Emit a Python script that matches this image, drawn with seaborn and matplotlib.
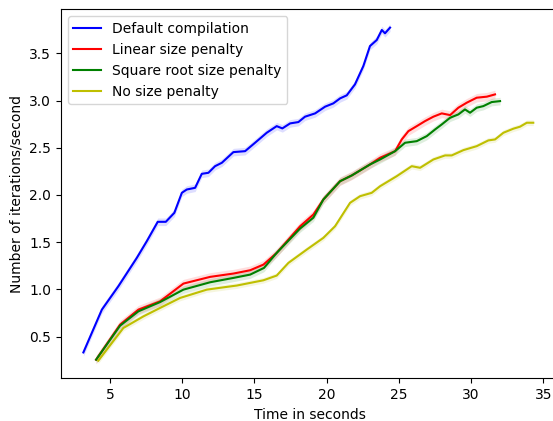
import numpy as np
import pandas as pd
import matplotlib
matplotlib.use("Agg")
import matplotlib.pyplot as plt
import seaborn as sns

series_names = ["Default compilation", "Linear size penalty",
                "Square root size penalty", "No size penalty"]
series_colors = ["blue", "red", "green", "y"]

default_x = [3.15, 4.43, 5.57, 6.85, 7.54, 8.30, 8.86, 9.45, 9.97, 10.31, 10.89,
             11.35, 11.81, 12.27, 12.74, 13.54, 14.35, 15.04, 15.85, 16.54, 16.93,
             17.47, 18.04, 18.50, 19.20, 19.89, 20.46, 20.93, 21.39, 21.96, 22.54,
             23.00, 23.47, 23.82, 24.04, 24.39]
default_y = [0.333, 0.786, 1.033, 1.334, 1.510, 1.716, 1.716, 1.811, 2.023, 2.058,
             2.076, 2.224, 2.235, 2.305, 2.341, 2.454, 2.464, 2.553, 2.659, 2.729,
             2.705, 2.758, 2.772, 2.829, 2.864, 2.935, 2.970, 3.023, 3.055, 3.171,
             3.365, 3.577, 3.641, 3.747, 3.712, 3.772]

linear_x = [4.03, 5.69, 6.96, 8.46, 10.08, 11.93, 13.54, 14.70, 15.62, 16.54,
            18.16, 19.08, 19.77, 20.93, 21.74, 23.00, 23.70, 24.74, 25.20, 25.66,
            26.24, 26.81, 27.39, 27.97, 28.55, 29.12, 29.70, 30.39, 31.09, 31.66]
linear_y = [0.256, 0.627, 0.786, 0.874, 1.062, 1.133, 1.168, 1.203, 1.263, 1.387,
            1.669, 1.793, 1.952, 2.146, 2.207, 2.323, 2.394, 2.464, 2.588, 2.676,
            2.729, 2.782, 2.829, 2.864, 2.846, 2.924, 2.977, 3.030, 3.041, 3.065]

sqrt_x = [4.03, 5.69, 6.96, 8.46, 10.08, 11.93, 13.54, 14.70, 15.66, 16.54,
          18.16, 19.08, 19.77, 20.93, 21.74, 23.00, 23.70, 24.74, 25.43, 26.24,
          26.93, 27.51, 27.97, 28.55, 29.12, 29.58, 29.93, 30.39, 30.85, 31.43, 32.01]
sqrt_y = [0.256, 0.616, 0.768, 0.866, 0.998, 1.076, 1.122, 1.157, 1.228, 1.387,
          1.645, 1.760, 1.952, 2.146, 2.207, 2.323, 2.376, 2.464, 2.553, 2.570,
          2.623, 2.694, 2.747, 2.818, 2.853, 2.906, 2.871, 2.924, 2.941, 2.984, 2.994]

none_x = [4.18, 5.92, 7.31, 8.46, 9.85, 11.70, 13.08, 13.77, 15.62, 16.54, 17.35,
          18.62, 19.77, 20.58, 21.62, 22.31, 23.12, 23.70, 24.85, 25.89, 26.47,
          27.39, 28.20, 28.66, 29.47, 30.39, 31.20, 31.66, 32.24, 32.93, 33.39,
          33.86, 34.31]
none_y = [0.245, 0.592, 0.715, 0.804, 0.910, 0.998, 1.027, 1.041, 1.097, 1.147, 1.281,
          1.422, 1.546, 1.669, 1.917, 1.987, 2.023, 2.093, 2.199, 2.305, 2.288,
          2.376, 2.419, 2.419, 2.475, 2.517, 2.578, 2.588, 2.659, 2.702, 2.723,
          2.765, 2.765]

band_halfwidth = [0.04, 0.045, 0.04, 0.03]

xs = [default_x, linear_x, sqrt_x, none_x]
ys = [default_y, linear_y, sqrt_y, none_y]

frames = []
for name, x, y in zip(series_names, xs, ys):
    frames.append(pd.DataFrame({"time": x, "rate": y, "method": name}))
df = pd.concat(frames, ignore_index=True)

fig = plt.figure(figsize=(5.53, 4.21), dpi=100)
ax = fig.add_axes([0.1103, 0.1014, 0.9, 0.8765])

palette = dict(zip(series_names, series_colors))
sns.lineplot(data=df, x="time", y="rate", hue="method", hue_order=series_names,
             palette=palette, ax=ax, linewidth=1.5, sort=False)

for name, x, y, hw, c in zip(series_names, xs, ys, band_halfwidth, series_colors):
    xa = np.asarray(x)
    ya = np.asarray(y)
    ax.fill_between(xa, ya - hw, ya + hw, color=c, alpha=0.13, linewidth=0)

ax.set_xlim(1.6, 36.07)
ax.set_ylim(0.059, 3.966)
ax.set_xticks([5, 10, 15, 20, 25, 30, 35])
ax.set_yticks([0.5, 1.0, 1.5, 2.0, 2.5, 3.0, 3.5])
ax.set_xlabel("Time in seconds")
ax.set_ylabel("Number of iterations/second")
ax.legend(loc="upper left", title=None)

fig.savefig("out.png", dpi=100)
